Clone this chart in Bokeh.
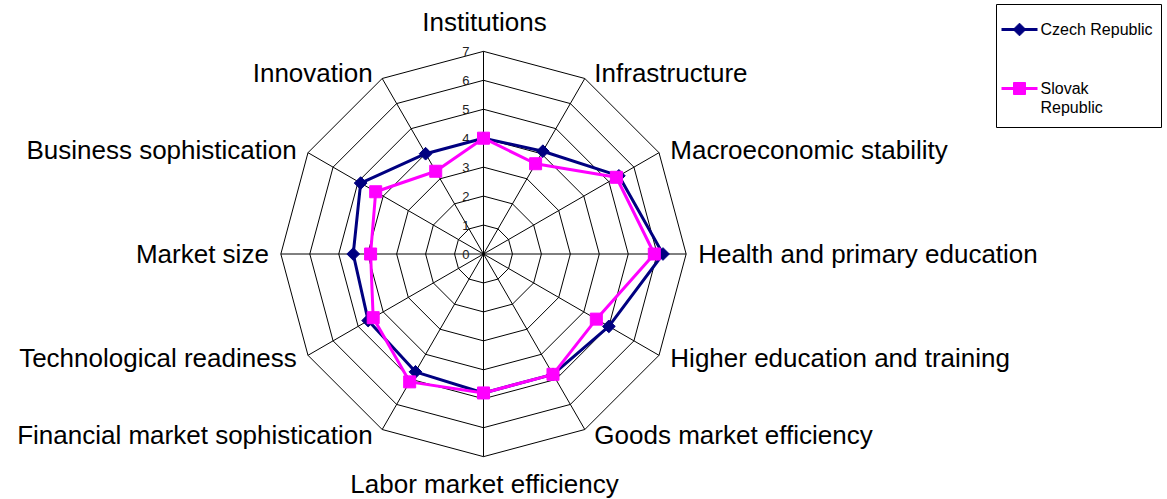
import numpy as np
from bokeh.plotting import figure
from bokeh.models import Range1d
from bokeh.core.properties import value
from bokeh.embed import file_html
from bokeh.resources import INLINE

# ---------------- data ----------------
categories = [
    "Institutions", "Infrastructure", "Macroeconomic stability",
    "Health and primary education", "Higher education and training",
    "Goods market efficiency", "Labor market efficiency",
    "Financial market sophistication", "Technological readiness",
    "Market size", "Business sophistication", "Innovation",
]
czech = [4.0, 4.1, 5.4, 6.2, 5.0, 4.8, 4.8, 4.7, 4.6, 4.5, 4.9, 4.0]
slovak = [4.0, 3.6, 5.3, 5.9, 4.5, 4.8, 4.8, 5.1, 4.4, 3.9, 4.3, 3.3]
tick_values = [0, 1, 2, 3, 4, 5, 6, 7]
tick_labels = ["0", "1", "2", "3", "4", "5", "6", "7"]
series_names = ["Czech Republic", "Slovak Republic"]
series_colors = ["#000080", "#FF00FF"]

# ---------------- geometry ----------------
OX, OY = 0, 0             # page offset of the figure as photographed
W, H = 1167, 499          # figure size
S = 28.95                 # px per unit
CX, CY = 483.0, 253.5     # centre in picture pixels
MAXV = 7

def to_data(xp, yp):
    return (xp - CX) / S, (CY - yp) / S

p = figure(width=W, height=H, output_backend="svg", toolbar_location=None,
           x_range=Range1d((OX - CX) / S, (OX + W - CX) / S),
           y_range=Range1d((CY - OY - H) / S, (CY - OY) / S),
           min_border=0, outline_line_color=None, background_fill_color="white")
p.xaxis.visible = False
p.yaxis.visible = False
p.grid.visible = False

n = len(categories)
theta = np.deg2rad(90 - 360.0 / n * np.arange(n))
ct, st = np.cos(theta), np.sin(theta)

# grid polygons
for lv in tick_values[1:]:
    p.line(list(lv * ct) + [lv * ct[0]], list(lv * st) + [lv * st[0]],
           line_color="black", line_width=1)
# spokes
p.segment(x0=np.zeros(n), y0=np.zeros(n), x1=MAXV * ct, y1=MAXV * st,
          line_color="black", line_width=1)

# tick labels
p.text(x=[0] * len(tick_values), y=tick_values, text=tick_labels,
       x_offset=-14, text_align="right", text_baseline="middle",
       text_font=value("Liberation Sans"), text_font_size="13px",
       text_color="#222222")

# category labels
FONT = value("Liberation Sans")
lx, ly, ltext, lalign, lxo, lyo = [], [], [], [], [], []
for i, name in enumerate(categories):
    c, s_ = ct[i], st[i]
    lx.append(MAXV * c)
    ly.append(MAXV * s_)
    ltext.append(name)
    if abs(c) < 1e-6:
        lalign.append("center")
        lxo.append(1)
        lyo.append(-29 if s_ > 0 else 27)
    else:
        lalign.append("left" if c > 0 else "right")
        off = 7 + 5 * abs(c)
        lxo.append(off if c > 0 else -off)
        lyo.append(-6 * s_)
p.text(x=lx, y=ly, text=ltext, text_align=lalign, x_offset=lxo, y_offset=lyo,
       text_baseline="middle", text_font=FONT, text_font_size="26px",
       text_color="black")

# series
for vals, col, mk in [(czech, series_colors[0], "diamond"),
                      (slovak, series_colors[1], "square")]:
    v = np.array(vals)
    xs, ys = v * ct, v * st
    p.line(list(xs) + [xs[0]], list(ys) + [ys[0]], line_color=col, line_width=3)
    if mk == "diamond":
        p.scatter(xs, ys, marker="square", angle=np.pi / 4, size=9,
                  fill_color=col, line_color=col)
    else:
        p.scatter(xs, ys, marker="square", size=12, fill_color=col, line_color=col)

# legend (drawn manually to match box layout)
bl, bt = to_data(996, 4)
br, bb = to_data(1161, 127)
p.quad(left=bl, right=br, top=bt, bottom=bb, fill_color="white",
       line_color="black", line_width=1)
leg_rows = [29, 88]
for name, col, yrow, mk in zip(series_names, series_colors, leg_rows, ["diamond", "square"]):
    x0, y0 = to_data(1001, yrow)
    x1, _ = to_data(1037, yrow)
    xm, _ = to_data(1019, yrow)
    p.line([x0, x1], [y0, y0], line_color=col, line_width=3)
    if mk == "diamond":
        p.scatter([xm], [y0], marker="square", angle=np.pi / 4, size=9,
                  fill_color=col, line_color=col)
    else:
        p.scatter([xm], [y0], marker="square", size=12, fill_color=col, line_color=col)

tx, ty1 = to_data(1040, 29)
p.text(x=[tx], y=[ty1], text=[series_names[0]], text_align="left",
       text_baseline="middle", text_font=FONT, text_font_size="16px", text_color="black")
_, ty2 = to_data(1040, 88)
_, ty3 = to_data(1040, 107)
sk_words = series_names[1].split(" ")
p.text(x=[tx, tx], y=[ty2, ty3], text=sk_words, text_align="left",
       text_baseline="middle", text_font=FONT, text_font_size="16px", text_color="black")

open("out.html", "w").write(file_html(p, INLINE))
